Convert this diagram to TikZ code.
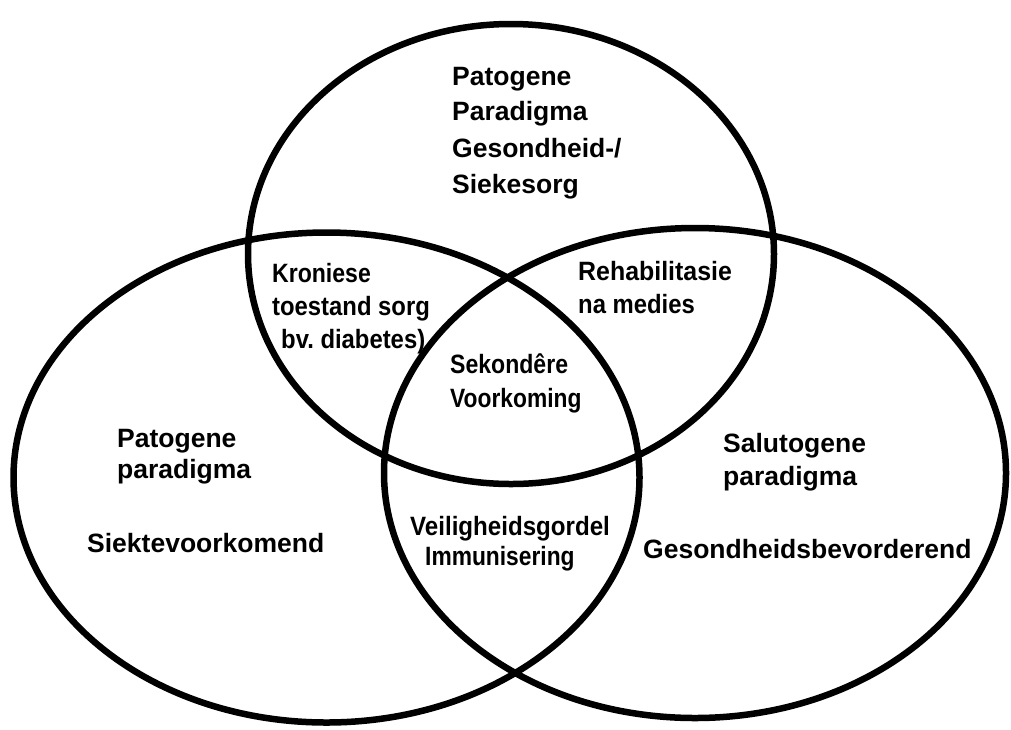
\documentclass[tikz,border=0pt]{standalone}
\usepackage{fontspec}
\usepackage{graphicx}
\setmainfont{Liberation Sans}
\frenchspacing
\newcommand{\narrowtxt}[2]{\scalebox{#1}[1]{#2}}
\begin{document}
\begin{tikzpicture}[x=1pt,y=-1pt,
  circ/.style={line width=6.5pt, draw=black},
  lbl/.style={anchor=base west, inner sep=0pt, font=\fontsize{26.5}{34}\selectfont\bfseries}]
\fill[white] (0,0) rectangle (1011,729);
\useasboundingbox (0,0) rectangle (1011,729);
% three sets
\draw[circ] (511,254) ellipse [x radius=263pt, y radius=230pt];
\draw[circ] (326.5,477.5) ellipse [x radius=313pt, y radius=245pt];
\draw[circ] (695,473) ellipse [x radius=311pt, y radius=245pt];
% top set
\node[lbl] (top1) at (452,85) {Patogene};
\node[lbl] (top2) at (452,120) {Paradigma};
\node[lbl] (top3) at (452,157) {Gesondheid-/};
\node[lbl] (top4) at (452,193) {Siekesorg};
% top-left overlap
\node[lbl] (tl1) at (272,282) {\narrowtxt{0.87}{Kroniese}};
\node[lbl] (tl2) at (272,315) {\narrowtxt{0.9}{toestand sorg}};
\node[lbl] (tl3) at (281,348) {\narrowtxt{0.9}{bv. diabetes)}};
% top-right overlap
\node[lbl] (tr1) at (578,280) {\narrowtxt{0.94}{Rehabilitasie}};
\node[lbl] (tr2) at (578,313) {\narrowtxt{0.9}{na medies}};
% centre
\node[lbl] (c1) at (450,373) {\narrowtxt{0.87}{Sekondêre}};
\node[lbl] (c2) at (450,407) {\narrowtxt{0.86}{Voorkoming}};
% bottom overlap
\node[lbl] (b1) at (410,535) {\narrowtxt{0.91}{Veiligheidsgordel}};
\node[lbl] (b2) at (425,565) {\narrowtxt{0.86}{Immunisering}};
% left set
\node[lbl] (l1) at (117,447) {Patogene};
\node[lbl] (l2) at (117,478) {paradigma};
\node[lbl] (l3) at (87,552) {Siektevoorkomend};
% right set
\node[lbl] (r1) at (723,452) {Salutogene};
\node[lbl] (r2) at (723,485) {paradigma};
\node[lbl] (r3) at (643,558) {Gesondheidsbevorderend};
\end{tikzpicture}
\end{document}
